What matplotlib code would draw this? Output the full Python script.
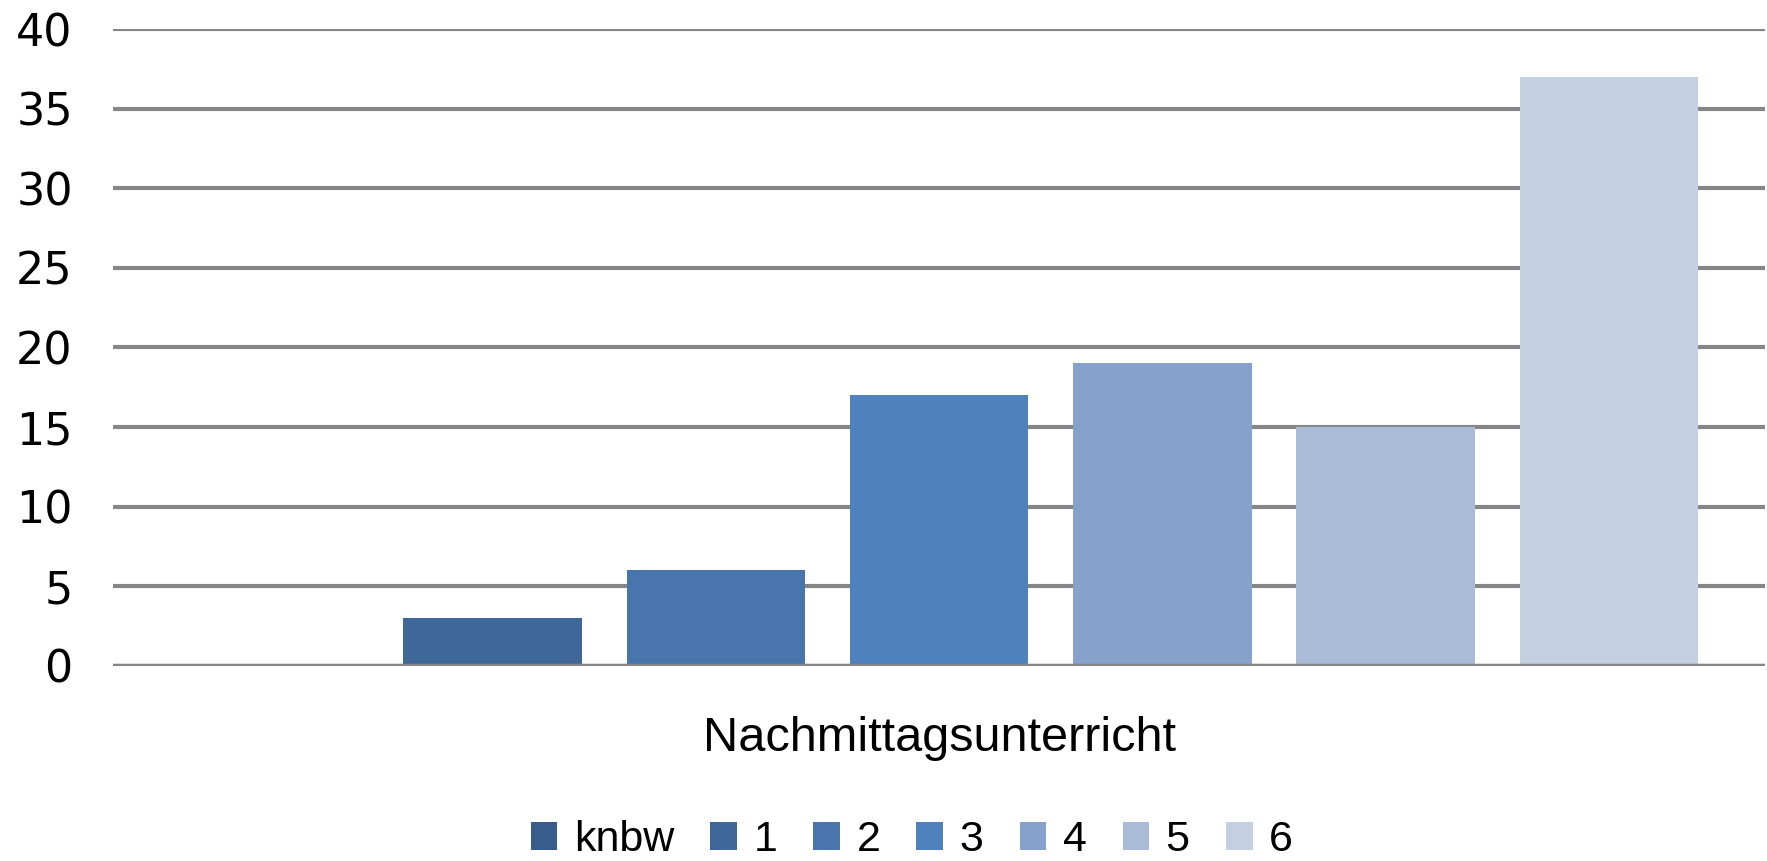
import matplotlib
matplotlib.use("Agg")
import matplotlib.pyplot as plt

# Daten
kategorie = "Nachmittagsunterricht"
serien = ["knbw", "1", "2", "3", "4", "5", "6"]
werte = [0, 3, 6, 17, 19, 15, 37]
farben = ["#385D8A", "#3F6899", "#4775AC", "#4F81BD", "#86A1CB", "#AABBD8", "#C4CFE2"]

schrift = "Liberation Sans"

fig = plt.figure(figsize=(17.67, 8.61), dpi=100)
ax = fig.add_axes([0.064, 0.2265, 0.935, 0.7398])

for i, (name, wert, farbe) in enumerate(zip(serien, werte, farben)):
    ax.bar(i, wert, width=0.8, color=farbe, label=name, zorder=3)

ax.set_xlim(-0.7, 6.7)
ax.set_ylim(0, 40)
ax.set_yticks(range(0, 41, 5))
ax.yaxis.grid(True, color="#868686", linewidth=3, zorder=0)
ax.axhline(0, color="#868686", linewidth=3.2, zorder=4)
for s in ax.spines.values():
    s.set_visible(False)
ax.tick_params(axis="y", length=0, pad=29, labelsize=32)
ax.set_xticks([3])
ax.set_xticklabels([kategorie], family=schrift, fontsize=35)
ax.tick_params(axis="x", length=0, pad=36)

fig.legend(loc="center", bbox_to_anchor=(0.516, 0.024), ncol=7, frameon=False,
           prop={"family": schrift, "size": 31}, handlelength=0.62, handleheight=0.62,
           handletextpad=0.38, columnspacing=0.84)

fig.savefig("out.png", dpi=100)
